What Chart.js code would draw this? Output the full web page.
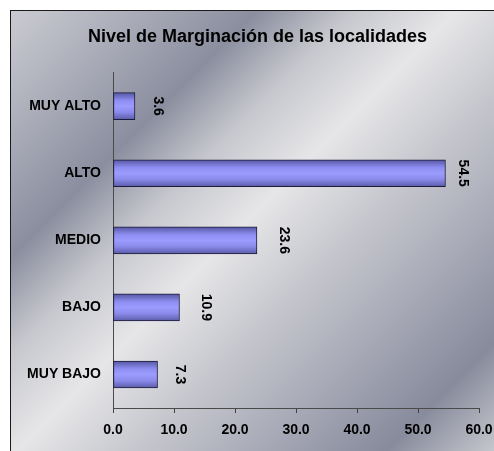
<!DOCTYPE html>
<html>
<head>
<meta charset="utf-8">
<script src="https://cdn.jsdelivr.net/npm/chart.js@4/dist/chart.umd.min.js"></script>
<style>
  html, body { margin: 0; padding: 0; background: #fff; overflow: hidden; width: 494px; height: 451px; }
  #frame {
    position: absolute; left: 10px; top: 10px; width: 495px; height: 452px;
    border: 1px solid #1a1a1a;
    background: linear-gradient(135deg,
      #cacbd1 0%, #a6a8b5 15%, #8b8e9f 26%, #c6c7cd 36%, #e6e6e8 47%,
      #c7c8ce 59%, #a4a6b4 74%, #888b9c 86%, #d3d4d8 100%);
  }
  #wrap { position: absolute; left: 0; top: 0; width: 515px; height: 451px; }
</style>
</head>
<body>
<div id="frame"></div>
<div id="wrap"><canvas id="nivelChart"></canvas></div>
<script>
// datos
const categorias = ["MUY ALTO", "ALTO", "MEDIO", "BAJO", "MUY BAJO"];
const porcentajes = [3.6, 54.5, 23.6, 10.9, 7.3];
const ejeX = { min: 0, max: 60, paso: 10 };

const FONT = '"Liberation Sans", Arial, sans-serif';

/**
 * Relleno de cada barra con un degradado vertical (aspecto cilindrico)
 */
function barFill(context) {
  const chart = context.chart;
  const yScale = chart.scales.y;
  if (!yScale || !chart.chartArea) return "#9999ff";
  const mid = yScale.getPixelForValue(context.dataIndex);
  const half = 14;
  const g = chart.ctx.createLinearGradient(0, mid - half, 0, mid + half);
  g.addColorStop(0, "#52529c");
  g.addColorStop(0.3, "#8e8ef2");
  g.addColorStop(0.5, "#9c9cff");
  g.addColorStop(0.72, "#8a8aea");
  g.addColorStop(1, "#5858a4");
  return g;
}

/**
 * Etiquetas de valor giradas junto a cada barra
 */
const etiquetasGiradas = {
  id: "etiquetasGiradas",
  afterDatasetsDraw(chart) {
    const ctx = chart.ctx;
    const meta = chart.getDatasetMeta(0);
    ctx.save();
    ctx.font = "bold 14px " + FONT;
    ctx.fillStyle = "#000";
    ctx.textAlign = "center";
    ctx.textBaseline = "middle";
    meta.data.forEach((bar, i) => {
      const txt = porcentajes[i].toFixed(1);
      const w = ctx.measureText(txt).width;
      let x = bar.x + 13 + w / 2;
      x = Math.min(x, chart.chartArea.right - 16);
      ctx.save();
      ctx.translate(x, bar.y);
      ctx.rotate(Math.PI / 2);
      ctx.fillText(txt, 0, 0);
      ctx.restore();
    });
    ctx.restore();
  },
};

const ctx = document.getElementById("nivelChart").getContext("2d");

new Chart(ctx, {
  type: "bar",
  data: {
    labels: categorias,
    datasets: [
      {
        data: porcentajes,
        backgroundColor: barFill,
        borderColor: "#1c1c3a",
        borderWidth: 1,
        borderSkipped: false,
        barThickness: 27,
      },
    ],
  },
  options: {
    indexAxis: "y",
    responsive: true,
    maintainAspectRatio: false,
    animation: false,
    layout: {
      padding: 0,
    },
    scales: {
      x: {
        min: ejeX.min,
        max: ejeX.max,
        afterFit: (scale) => { scale.height = 43; },
        ticks: {
          stepSize: ejeX.paso,
          padding: 9,
          color: "#000",
          font: { family: FONT, size: 14, weight: "bold" },
          callback: (v) => Number(v).toFixed(1),
          maxRotation: 0,
        },
        grid: {
          drawOnChartArea: false,
          drawTicks: true,
          tickLength: 5,
          color: "#404040",
        },
        border: { display: true, color: "#4a4a4a", width: 1 },
      },
      y: {
        afterFit: (scale) => { scale.width = 113; },
        ticks: {
          padding: 12,
          color: "#000",
          font: { family: FONT, size: 14, weight: "bold" },
        },
        grid: { display: false, drawTicks: false },
        border: { display: true, color: "#4a4a4a", width: 1 },
      },
      // eje vacio a la derecha: deja margen sin descentrar el titulo
      margen: {
        type: "category",
        axis: "y",
        position: "right",
        afterFit: (scale) => { scale.width = 36; },
        ticks: { display: false },
        grid: { display: false, drawTicks: false },
        border: { display: false },
      },
    },
    plugins: {
      legend: { display: false },
      tooltip: { enabled: false },
      title: {
        display: true,
        text: "Nivel de Marginación de las localidades",
        color: "#000",
        font: { family: FONT, size: 18, weight: "bold", lineHeight: 1.2 },
        padding: { top: 26, bottom: 25 },
      },
    },
  },
  plugins: [etiquetasGiradas],
});
</script>
</body>
</html>
